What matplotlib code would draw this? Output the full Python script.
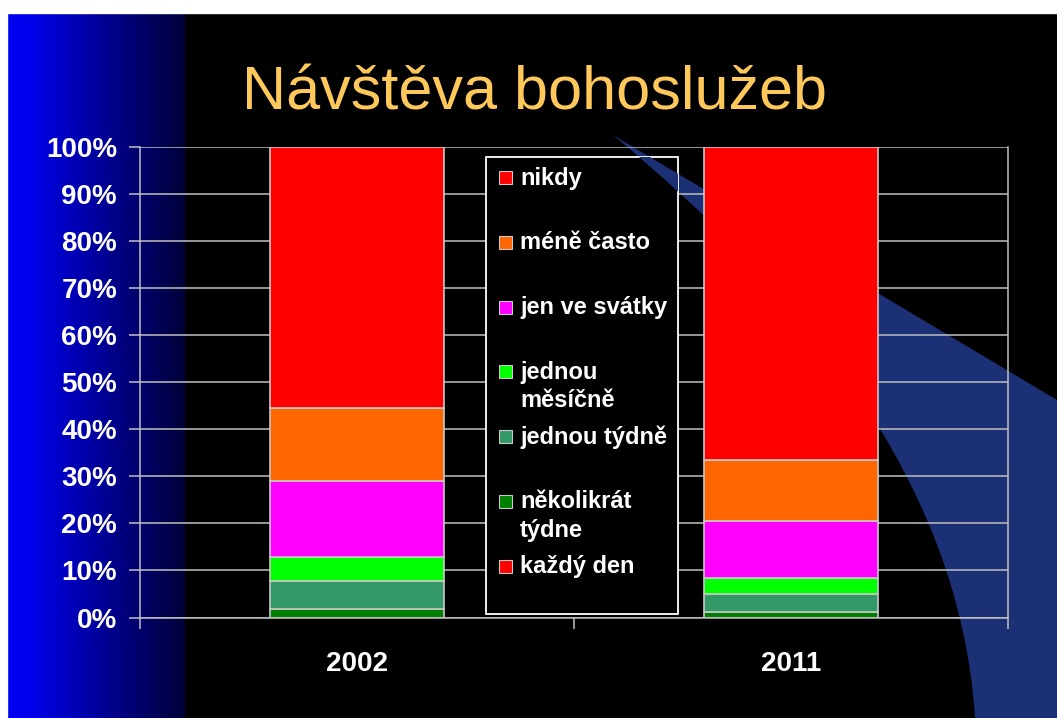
import numpy as np
import matplotlib
matplotlib.use("Agg")
import matplotlib.pyplot as plt
from matplotlib.patches import Rectangle, PathPatch
from matplotlib.path import Path
from matplotlib.ticker import FixedLocator, PercentFormatter

plt.rcParams['font.family'] = ['Liberation Sans', 'DejaVu Sans']

# data (percent), stacked bottom -> top
years = ['2002', '2011']
categories = ['každý den', 'několikrát\ntýdne', 'jednou týdně', 'jednou\nměsíčně',
              'jen ve svátky', 'méně často', 'nikdy']
kazdy_den = [0.0, 0.0]
nekolikrat_tydne = [1.9, 1.1]
jednou_tydne = [5.8, 3.9]
jednou_mesicne = [5.1, 3.3]
jen_ve_svatky = [16.3, 12.2]
mene_casto = [15.5, 13.0]
nikdy = [55.4, 66.5]
colors = ['#FF0000', '#008000', '#339966', '#00FF00', '#FF00FF', '#FF6600', '#FF0000']

series = [kazdy_den, nekolikrat_tydne, jednou_tydne, jednou_mesicne,
          jen_ve_svatky, mene_casto, nikdy]

W, H = 1057, 718
fig = plt.figure(figsize=(W / 100, H / 100), dpi=100, facecolor='black')

# background (pixel coordinates)
bg = fig.add_axes([0, 0, 1, 1], zorder=0)
bg.set_xlim(0, W)
bg.set_ylim(H, 0)
bg.axis('off')
bg.set_facecolor('black')
bg.add_patch(Rectangle((0, 0), W, H, color='black', zorder=0))
grad = np.zeros((1, 200, 3))
t = np.linspace(0, 1, 200)
grad[0, :, 2] = np.clip(0.94 - 0.72 * np.clip((t - 0.1) / 0.9, 0, 1), 0, 1)
bg.imshow(grad, extent=[7, 185, H, 13], aspect='auto', zorder=1)
bg.add_patch(Rectangle((0, 0), W, 13, color='white', zorder=2))
bg.add_patch(Rectangle((0, 0), 7, H, color='white', zorder=2))

swoosh_path = Path(
    [(613, 135), (800, 290), (960, 480), (975, H), (W, H), (W, 400), (613, 135)],
    [Path.MOVETO, Path.CURVE4, Path.CURVE4, Path.CURVE4, Path.LINETO, Path.LINETO, Path.CLOSEPOLY])
bg.add_patch(PathPatch(swoosh_path, facecolor='#1B3075', edgecolor='none', zorder=1.5))

bg.text(534, 110, 'Návštěva bohoslužeb', fontsize=44, color='#FFC85A',
        ha='center', va='baseline')

# chart
ax = fig.add_axes([140 / W, 1 - 617.5 / H, 868 / W, 470.5 / H], zorder=1)
ax.set_facecolor('none')
x = np.arange(len(years))
bottom = np.zeros(len(years))
for vals, col in zip(series, colors):
    ax.bar(x, vals, bottom=bottom, width=0.403, color=col,
           edgecolor='#C8C8C8', linewidth=1.2, zorder=2)
    bottom += np.array(vals)

ax.set_xlim(-0.5, 1.5)
ax.set_ylim(0, 100)
ax.set_yticks(np.arange(0, 101, 10))
ax.yaxis.set_major_formatter(PercentFormatter(decimals=0))
ax.set_xticks(x)
ax.set_xticklabels(years)
ax.xaxis.set_minor_locator(FixedLocator([-0.5, 0.5, 1.5]))
ax.grid(axis='y', color='#C0C0C0', linewidth=1.1, zorder=0.5)
ax.set_axisbelow(True)
for side in ['left', 'right', 'bottom']:
    ax.spines[side].set_color('#C0C0C0')
    ax.spines[side].set_linewidth(1.1)
ax.spines['top'].set_visible(False)
ax.tick_params(axis='y', length=8, width=1.1, color='#C0C0C0', pad=8.5,
               labelsize=20, labelcolor='white')
ax.tick_params(axis='x', which='major', length=0, pad=24, labelsize=20, labelcolor='white')
ax.tick_params(axis='x', which='minor', length=8, width=1.1, color='#C0C0C0')
for lab in ax.get_xticklabels() + ax.get_yticklabels():
    lab.set_fontweight('bold')

# legend (overlay, pixel coordinates)
ov = fig.add_axes([0, 0, 1, 1], zorder=2)
ov.set_xlim(0, W)
ov.set_ylim(H, 0)
ov.axis('off')
box = Rectangle((486, 157), 192, 457, facecolor='black', edgecolor='white',
                linewidth=1.3, zorder=1)
ov.add_patch(box)
tip = PathPatch(swoosh_path, facecolor='#1B3075', edgecolor='none', zorder=1.2)
ov.add_patch(tip)
tip.set_clip_path(box)
for i, (lab, col) in enumerate(zip(categories[::-1], colors[::-1])):
    yc = 178 + 64.8 * i
    ov.add_patch(Rectangle((499, yc - 7), 13, 13, facecolor=col, edgecolor='#C8C8C8',
                           linewidth=0.8, zorder=3))
    for j, line in enumerate(lab.split('\n')):
        ov.text(520, yc + 28 * j, line, fontsize=17, fontweight='bold', color='white',
                ha='left', va='center', zorder=3)

fig.savefig('out.png', dpi=100, facecolor='black')
